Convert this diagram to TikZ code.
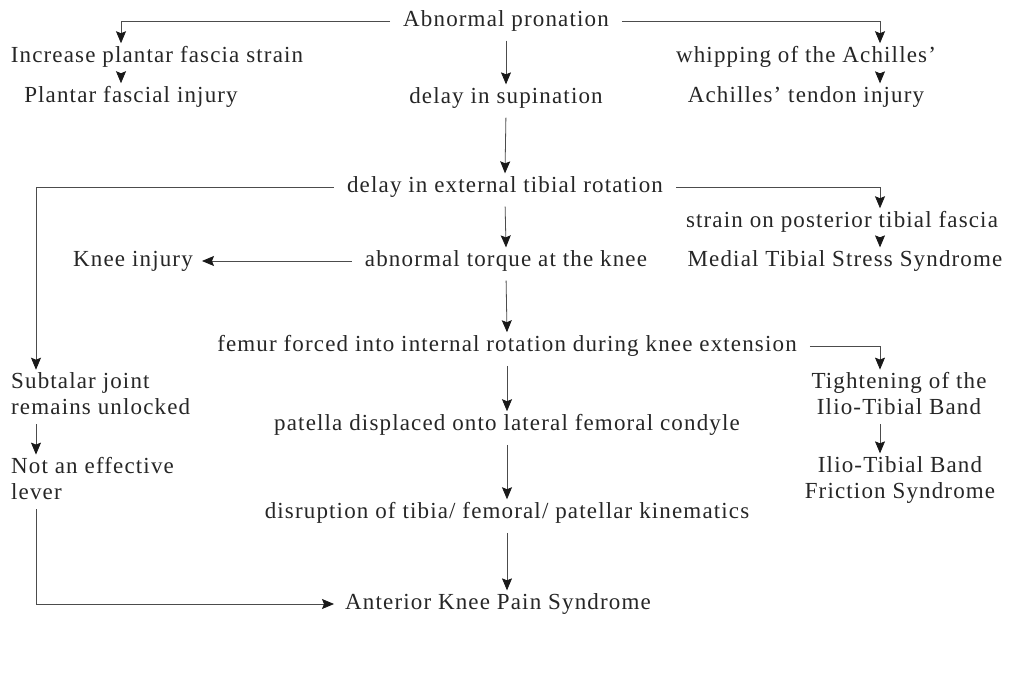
\documentclass[tikz,border=0pt]{standalone}
\usepackage{fontspec}
\setmainfont[LetterSpace=5]{Liberation Serif}
\usetikzlibrary{arrows.meta,calc}
\begin{document}
\begin{tikzpicture}[x=1pt,y=-1pt,
 lbl/.style={inner sep=3pt, font=\fontsize{23}{26}\selectfont, text=black!85},
 conn/.style={draw=black!70, line width=0.8pt, -{Stealth[length=12pt,width=10pt,inset=2pt,color=black!90]}},
 vconn/.style={conn, shorten <=6pt},
 hconn/.style={conn, shorten <=10pt}]
\useasboundingbox[fill=white] (0,0) rectangle (1012,688);
\coordinate (L) at (121,0);
\coordinate (R) at (880,0);
\coordinate (LL) at (36,0);
% nodes
\node[lbl] (abn) at (506,21) {Abnormal pronation};
\node[lbl] (inc) at (157,57) {Increase plantar fascia strain};
\node[lbl] (pfi) at (131,97) {Plantar fascial injury};
\node[lbl] (sup) at (506,98) {delay in supination};
\node[lbl] (whip) at (806,57) {whipping of the Achilles'};
\node[lbl] (ach) at (806,97) {Achilles' tendon injury};
\node[lbl] (ext) at (505,187) {delay in external tibial rotation};
\node[lbl] (str) at (842,222) {strain on posterior tibial fascia};
\node[lbl] (knee) at (133,261) {Knee injury};
\node[lbl] (tor) at (506,261) {abnormal torque at the knee};
\node[lbl] (mts) at (845,261) {Medial Tibial Stress Syndrome};
\node[lbl] (fem) at (507,346) {femur forced into internal rotation during knee extension};
\node[lbl, align=left, anchor=west] (sub) at (8,394) {Subtalar joint\\remains unlocked};
\node[lbl, align=center] (tig) at (899,394) {Tightening of the\\Ilio-Tibial Band};
\node[lbl] (pat) at (507,425) {patella displaced onto lateral femoral condyle};
\node[lbl, align=left, anchor=west] (lev) at (8,479) {Not an effective\\lever};
\node[lbl, align=center] (itb) at (900,480) {Ilio-Tibial Band\\Friction Syndrome};
\node[lbl] (dis) at (507,513) {disruption of tibia/ femoral/ patellar kinematics};
\node[lbl] (ant) at (498,604) {Anterior Knee Pain Syndrome};
% connectors
\draw[hconn] (abn.west) -| (inc.north -| L);
\draw[hconn] (abn.east) -| (whip.north -| R);
\draw[vconn] (inc.south -| L) -- (pfi.north -| L);
\draw[vconn] (abn.south) -- (sup.north);
\draw[vconn] (whip.south -| R) -- (ach.north -| R);
\draw[vconn] (sup.south) -- (ext.north);
\draw[hconn] (ext.west) -| (sub.north -| LL);
\draw[hconn] (ext.east) -| (str.north -| R);
\draw[vconn] (ext.south) -- (tor.north);
\draw[vconn] (str.south -| R) -- (mts.north -| R);
\draw[hconn, shorten >=6pt] (tor.west) -- (knee.east);
\draw[vconn] (tor.south) -- (fem.north);
\draw[hconn] (fem.east) -| (tig.north -| R);
\draw[vconn] (fem.south) -- (pat.north);
\draw[vconn] (sub.south -| LL) -- (lev.north -| LL);
\draw[vconn] (pat.south) -- (dis.north);
\draw[vconn] (tig.south -| R) -- (itb.north -| R);
\draw[vconn] (dis.south) -- (ant.north -| dis.south);
\draw[vconn, shorten >=8pt] (lev.south -| LL) |- (ant.west);
\end{tikzpicture}
\end{document}
